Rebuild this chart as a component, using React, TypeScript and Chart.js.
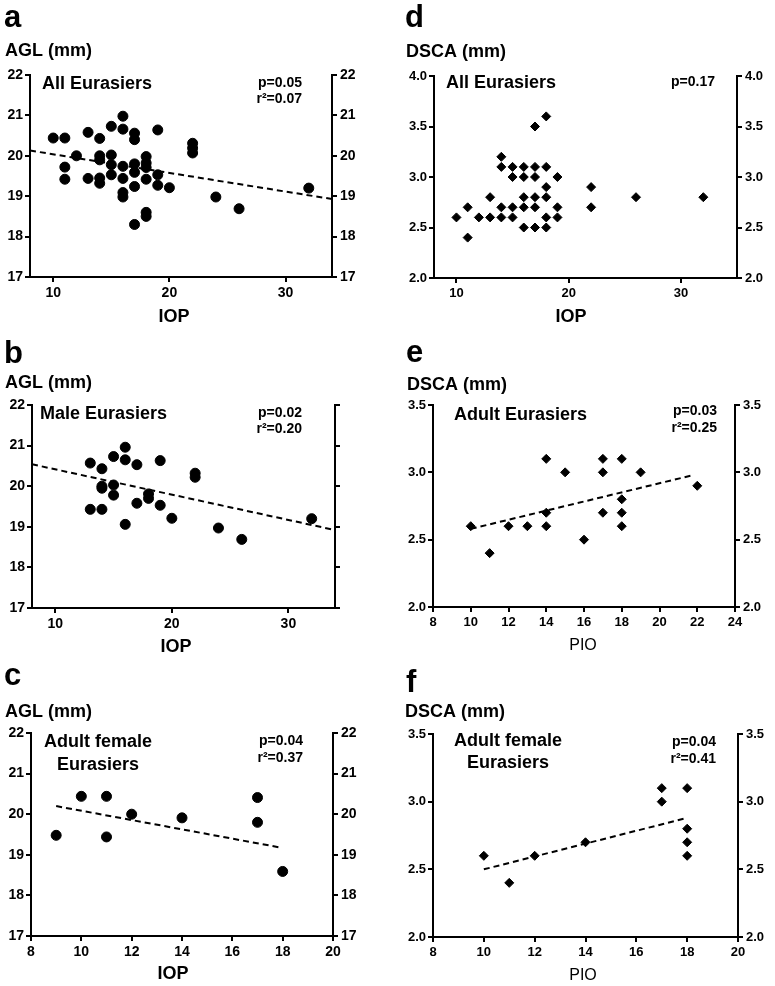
import React, { useEffect, useRef } from "react";
import { Chart, registerables } from "chart.js";

Chart.register(...registerables);

const FONT = '"Liberation Sans", Arial, Helvetica, sans-serif';

// ---- Panel a: All Eurasiers, AGL vs IOP ----
const aIOP = [10, 11, 11, 11, 12, 13, 13, 14, 14, 14, 14, 14, 15, 15, 15, 15, 16, 16, 16, 16, 16, 16, 17, 17, 17, 17, 17, 17, 18, 18, 18, 18, 18, 18, 19, 19, 19, 20, 22, 22, 22, 24, 26, 32];
const aAGL = [20.44, 20.44, 19.72, 19.42, 20.0, 20.58, 19.44, 20.43, 20.0, 19.9, 19.45, 19.32, 20.73, 20.02, 19.78, 19.53, 20.98, 20.66, 19.74, 19.44, 19.09, 18.98, 20.56, 20.4, 19.8, 19.59, 19.24, 18.3, 19.98, 19.82, 19.71, 19.42, 18.6, 18.5, 20.64, 19.53, 19.27, 19.21, 20.31, 20.19, 20.07, 18.98, 18.69, 19.2];
const aFitX = [8, 34];
const aFitY = [20.13, 18.93];

// ---- Panel b: Male Eurasiers, AGL vs IOP ----
const bIOP = [13, 13, 14, 14, 14, 14, 15, 15, 15, 16, 16, 16, 17, 17, 18, 18, 19, 19, 20, 22, 22, 24, 26, 32];
const bAGL = [20.57, 19.43, 20.43, 20.0, 19.95, 19.43, 20.73, 20.03, 19.78, 20.96, 20.65, 19.06, 20.53, 19.58, 19.81, 19.7, 20.63, 19.53, 19.21, 20.32, 20.22, 18.97, 18.69, 19.2];
const bFitX = [8, 34];
const bFitY = [20.54, 18.92];

// ---- Panel c: Adult female Eurasiers, AGL vs IOP ----
const cIOP = [9, 10, 11, 11, 12, 14, 17, 17, 18];
const cAGL = [19.48, 20.44, 20.44, 19.44, 20.0, 19.91, 20.41, 19.8, 18.59];
const cFitX = [9, 17.9];
const cFitY = [20.2, 19.18];

// ---- Panel d: All Eurasiers, DSCA vs IOP ----
const dIOP = [10, 11, 11, 12, 13, 13, 14, 14, 14, 14, 15, 15, 15, 15, 16, 16, 16, 16, 16, 17, 17, 17, 17, 17, 17, 18, 18, 18, 18, 18, 18, 19, 19, 19, 22, 22, 26, 32];
const dDSCA = [2.6, 2.7, 2.4, 2.6, 2.8, 2.6, 3.2, 3.1, 2.7, 2.6, 3.1, 3.0, 2.7, 2.6, 3.1, 3.0, 2.8, 2.7, 2.5, 3.5, 3.1, 3.0, 2.8, 2.7, 2.5, 3.6, 3.1, 2.9, 2.8, 2.6, 2.5, 3.0, 2.7, 2.6, 2.9, 2.7, 2.8, 2.8];

// ---- Panel e: Adult Eurasiers, DSCA vs PIO ----
const ePIO = [10, 11, 12, 13, 14, 14, 14, 15, 16, 17, 17, 17, 18, 18, 18, 18, 19, 22];
const eDSCA = [2.6, 2.4, 2.6, 2.6, 3.1, 2.7, 2.6, 3.0, 2.5, 3.1, 3.0, 2.7, 3.1, 2.8, 2.7, 2.6, 3.0, 2.9];
const eFitX = [10, 21.8];
const eFitY = [2.58, 2.98];

// ---- Panel f: Adult female Eurasiers, DSCA vs PIO ----
const fPIO = [10, 11, 12, 14, 17, 17, 18, 18, 18, 18];
const fDSCA = [2.6, 2.4, 2.6, 2.7, 3.1, 3.0, 3.1, 2.8, 2.7, 2.6];
const fFitX = [10, 18];
const fFitY = [2.5, 2.88];

type Txt = { t: string; x: number; y: number; font: string; align?: CanvasTextAlign };

const F_LETTER = `bold 31px ${FONT}`;
const F_TITLE = `bold 18px ${FONT}`;
const F_STAT = `bold 14px ${FONT}`;
const F_PIO = `16px ${FONT}`;

interface PanelSpec {
  left: number;
  top: number;
  width: number;
  height: number;
  area: { l: number; r: number; t: number; b: number };
  xMin: number;
  xMax: number;
  xStep: number;
  yMin: number;
  yMax: number;
  yStep: number;
  yDec: number;
  xs: number[];
  ys: number[];
  fitX?: number[];
  fitY?: number[];
  point: "circle" | "rectRot";
  rightLabels: boolean;
  tickSize: number;
  texts: Txt[];
}

const textPlugin = {
  id: "panelText",
  afterDraw(chart: any, _args: any, opts: any) {
    const ctx = chart.ctx as CanvasRenderingContext2D;
    const items: Txt[] = opts.items || [];
    ctx.save();
    ctx.fillStyle = "#000";
    ctx.textBaseline = "alphabetic";
    for (const it of items) {
      ctx.font = it.font;
      ctx.textAlign = it.align || "left";
      ctx.fillText(it.t, it.x - opts.ox, it.y - opts.oy);
    }
    ctx.restore();
  },
};

const panels: PanelSpec[] = [
  {
    left: 0, top: 0, width: 385, height: 330,
    area: { l: 30, r: 332, t: 75, b: 277 },
    xMin: 8, xMax: 34, xStep: 10, yMin: 17, yMax: 22, yStep: 1, yDec: 0,
    xs: aIOP, ys: aAGL, fitX: aFitX, fitY: aFitY, point: "circle", rightLabels: true, tickSize: 14,
    texts: [
      { t: "a", x: 4, y: 27, font: F_LETTER },
      { t: "AGL (mm)", x: 5, y: 56, font: F_TITLE },
      { t: "All Eurasiers", x: 42, y: 89, font: F_TITLE },
      { t: "p=0.05", x: 302, y: 87, font: F_STAT, align: "right" },
      { t: "r²=0.07", x: 302, y: 103, font: F_STAT, align: "right" },
      { t: "IOP", x: 174, y: 322, font: F_TITLE, align: "center" },
    ],
  },
  {
    left: 0, top: 330, width: 385, height: 326,
    area: { l: 32, r: 335, t: 405, b: 608 },
    xMin: 8, xMax: 34, xStep: 10, yMin: 17, yMax: 22, yStep: 1, yDec: 0,
    xs: bIOP, ys: bAGL, fitX: bFitX, fitY: bFitY, point: "circle", rightLabels: false, tickSize: 14,
    texts: [
      { t: "b", x: 4, y: 363, font: F_LETTER },
      { t: "AGL (mm)", x: 5, y: 388, font: F_TITLE },
      { t: "Male Eurasiers", x: 40, y: 419, font: F_TITLE },
      { t: "p=0.02", x: 302, y: 417, font: F_STAT, align: "right" },
      { t: "r²=0.20", x: 302, y: 433, font: F_STAT, align: "right" },
      { t: "IOP", x: 176, y: 652, font: F_TITLE, align: "center" },
    ],
  },
  {
    left: 0, top: 656, width: 385, height: 330,
    area: { l: 31, r: 333, t: 733, b: 936 },
    xMin: 8, xMax: 20, xStep: 2, yMin: 17, yMax: 22, yStep: 1, yDec: 0,
    xs: cIOP, ys: cAGL, fitX: cFitX, fitY: cFitY, point: "circle", rightLabels: true, tickSize: 14,
    texts: [
      { t: "c", x: 4, y: 685, font: F_LETTER },
      { t: "AGL (mm)", x: 5, y: 717, font: F_TITLE },
      { t: "Adult female", x: 98, y: 747, font: F_TITLE, align: "center" },
      { t: "Eurasiers", x: 98, y: 770, font: F_TITLE, align: "center" },
      { t: "p=0.04", x: 303, y: 745, font: F_STAT, align: "right" },
      { t: "r²=0.37", x: 303, y: 762, font: F_STAT, align: "right" },
      { t: "IOP", x: 173, y: 979, font: F_TITLE, align: "center" },
    ],
  },
  {
    left: 385, top: 0, width: 390, height: 330,
    area: { l: 434, r: 737, t: 76, b: 278 },
    xMin: 8, xMax: 35, xStep: 10, yMin: 2, yMax: 4, yStep: 0.5, yDec: 1,
    xs: dIOP, ys: dDSCA, point: "rectRot", rightLabels: true, tickSize: 13,
    texts: [
      { t: "d", x: 405, y: 27, font: F_LETTER },
      { t: "DSCA (mm)", x: 406, y: 57, font: F_TITLE },
      { t: "All Eurasiers", x: 446, y: 88, font: F_TITLE },
      { t: "p=0.17", x: 715, y: 86, font: F_STAT, align: "right" },
      { t: "IOP", x: 571, y: 322, font: F_TITLE, align: "center" },
    ],
  },
  {
    left: 385, top: 330, width: 390, height: 326,
    area: { l: 433, r: 735, t: 405, b: 607 },
    xMin: 8, xMax: 24, xStep: 2, yMin: 2, yMax: 3.5, yStep: 0.5, yDec: 1,
    xs: ePIO, ys: eDSCA, fitX: eFitX, fitY: eFitY, point: "rectRot", rightLabels: true, tickSize: 13,
    texts: [
      { t: "e", x: 406, y: 362, font: F_LETTER },
      { t: "DSCA (mm)", x: 407, y: 390, font: F_TITLE },
      { t: "Adult Eurasiers", x: 454, y: 420, font: F_TITLE },
      { t: "p=0.03", x: 717, y: 415, font: F_STAT, align: "right" },
      { t: "r²=0.25", x: 717, y: 432, font: F_STAT, align: "right" },
      { t: "PIO", x: 583, y: 650, font: F_PIO, align: "center" },
    ],
  },
  {
    left: 385, top: 656, width: 390, height: 330,
    area: { l: 433, r: 738, t: 734, b: 937 },
    xMin: 8, xMax: 20, xStep: 2, yMin: 2, yMax: 3.5, yStep: 0.5, yDec: 1,
    xs: fPIO, ys: fDSCA, fitX: fFitX, fitY: fFitY, point: "rectRot", rightLabels: true, tickSize: 13,
    texts: [
      { t: "f", x: 406, y: 692, font: F_LETTER },
      { t: "DSCA (mm)", x: 405, y: 717, font: F_TITLE },
      { t: "Adult female", x: 508, y: 746, font: F_TITLE, align: "center" },
      { t: "Eurasiers", x: 508, y: 768, font: F_TITLE, align: "center" },
      { t: "p=0.04", x: 716, y: 746, font: F_STAT, align: "right" },
      { t: "r²=0.41", x: 716, y: 763, font: F_STAT, align: "right" },
      { t: "PIO", x: 583, y: 980, font: F_PIO, align: "center" },
    ],
  },
];

function Panel({ p }: { p: PanelSpec }) {
  const ref = useRef<HTMLCanvasElement | null>(null);
  useEffect(() => {
    if (!ref.current) return;
    const yW = p.area.l - p.left;
    const y2W = p.left + p.width - p.area.r;
    const xH = p.top + p.height - p.area.b;
    const padTop = p.area.t - p.top;
    const tickFont = { family: FONT, size: p.tickSize, weight: "bold" as const };
    const grid = { drawOnChartArea: false, drawTicks: true, tickLength: 5, lineWidth: 2, color: "#000" };
    const border = { display: true, color: "#000", width: 2 };
    const datasets: any[] = [
      {
        data: p.xs.map((x, i) => ({ x, y: p.ys[i] })),
        pointStyle: p.point,
        pointRadius: p.point === "circle" ? 5 : 4.5,
        pointHoverRadius: p.point === "circle" ? 5 : 4.5,
        pointBackgroundColor: "#000",
        pointBorderColor: "#000",
        pointBorderWidth: 1,
        showLine: false,
        yAxisID: "y",
      },
    ];
    if (p.fitX && p.fitY) {
      const fy = p.fitY;
      datasets.push({
        data: p.fitX.map((x, i) => ({ x, y: fy[i] })),
        showLine: true,
        borderColor: "#000",
        borderWidth: 2,
        borderDash: [6, 4],
        pointRadius: 0,
        fill: false,
        yAxisID: "y",
      });
    }
    const yTickCb = (v: any) => Number(v).toFixed(p.yDec);
    const chart = new Chart(ref.current, {
      type: "scatter",
      data: { datasets },
      plugins: [textPlugin],
      options: {
        animation: false,
        responsive: false,
        devicePixelRatio: 1,
        layout: { padding: { top: padTop, left: 0, right: 0, bottom: 0 } },
        plugins: {
          legend: { display: false },
          tooltip: { enabled: false },
          panelText: { items: p.texts, ox: p.left, oy: p.top },
        } as any,
        scales: {
          x: {
            type: "linear",
            position: "bottom",
            min: p.xMin,
            max: p.xMax,
            ticks: {
              stepSize: p.xStep,
              includeBounds: false,
              autoSkip: false,
              maxRotation: 0,
              color: "#000",
              font: tickFont,
              padding: 3,
            },
            grid,
            border,
            afterFit: (s: any) => {
              s.height = xH;
            },
          },
          y: {
            type: "linear",
            position: "left",
            min: p.yMin,
            max: p.yMax,
            ticks: { stepSize: p.yStep, callback: yTickCb, color: "#000", font: tickFont, padding: 2 },
            grid,
            border,
            afterFit: (s: any) => {
              s.width = yW;
            },
          },
          y2: {
            type: "linear",
            position: "right",
            display: true,
            min: p.yMin,
            max: p.yMax,
            ticks: {
              stepSize: p.yStep,
              callback: (v: any) => (p.rightLabels ? Number(v).toFixed(p.yDec) : ""),
              color: "#000",
              font: tickFont,
              padding: 3,
            },
            grid,
            border,
            afterFit: (s: any) => {
              s.width = y2W;
            },
          },
        } as any,
      },
    });
    return () => chart.destroy();
  }, [p]);
  return (
    <canvas
      ref={ref}
      width={p.width}
      height={p.height}
      style={{ position: "absolute", left: p.left, top: p.top, width: p.width, height: p.height }}
    />
  );
}

export default function App() {
  return (
    <div style={{ position: "absolute", left: 0, top: 0, width: 775, height: 986, background: "#fff", overflow: "hidden" }}>
      {panels.map((p, i) => (
        <Panel key={i} p={p} />
      ))}
    </div>
  );
}
